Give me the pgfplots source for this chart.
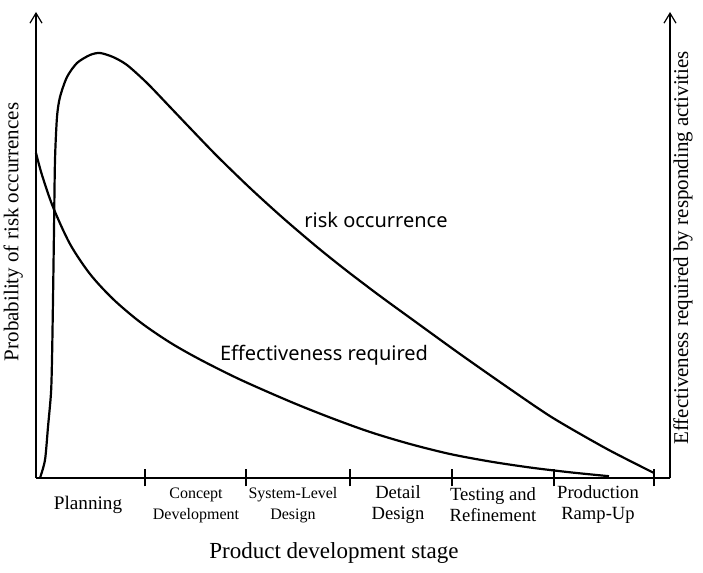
\documentclass[border=0pt]{standalone}
\usepackage{fontspec}
\setmainfont{Liberation Serif}
\newfontfamily\annot{Noto Sans}
\usepackage{pgfplots}
\pgfplotsset{compat=1.18}
\usetikzlibrary{arrows.meta}

% 1 px of the reference = 0.5pt; x = px-36, y = 478-py
\newcommand{\stageL}{\fontsize{9.3}{10.5}\selectfont}
\newcommand{\stageS}{\fontsize{8}{9}\selectfont}

\begin{document}
\begin{tikzpicture}
\path[use as bounding box] (-18pt,-47.5pt) rectangle (333.5pt,239pt);
\begin{axis}[
  scale only axis, width=317pt, height=233pt,
  xmin=0, xmax=634, ymin=0, ymax=466,
  axis x line=bottom, axis y line=left,
  x axis line style={-, line width=1.1pt},
  y axis line style={-{Straight Barb[length=5pt,width=6pt]}, line width=0.6pt},
  ytick=\empty,
  xtick={52,160,257,362,457,562},
  xticklabels={
    {\fontsize{9.6}{11}\selectfont Planning},
    {\stageS Concept\\\stageS Development},
    {\stageS System-Level\\\stageS Design},
    {\stageL Detail\\\stageL Design},
    {\stageL Testing and\\\stageL Refinement},
    {\stageL Production\\\stageL Ramp-Up}},
  major tick length=0pt,
  extra x ticks={109,210,314,416,518,618},
  extra x tick labels={},
  extra x tick style={major tick length=8.5pt, tick style={line width=0.6pt, black}},
  xtick align=center,
  xticklabel style={align=center, anchor=center, yshift=-13.5pt, font=\stageL},
  xlabel={Product development stage},
  xlabel style={at={(axis description cs:0.47,-0.161)}, anchor=center, font=\fontsize{11.5}{13}\selectfont},
  ylabel={Probability of risk occurrences},
  ylabel style={at={(axis description cs:-0.036,0.528)}, anchor=center, font=\fontsize{10.5}{12}\selectfont},
  clip=false,
]
% risk occurrence
\addplot[black, line width=1.1pt, smooth, tension=0.45] coordinates {
  (4,0) (9,18) (12,51) (15,85) (16,118) (17,178) (18,248) (19,318) (21,361)
  (24,381) (31,401) (41,415) (54,423) (64,425) (77,421) (91,413) (111,395)
  (134,371) (154,350) (181,322) (214,290) (247,260) (281,231) (311,207)
  (344,182) (377,158) (424,124) (474,89) (517,60) (571,29) (618,5)
};
% effectiveness required
\addplot[black, line width=1.1pt, smooth, tension=0.5] coordinates {
  (0,325) (6,303) (17,271) (34,234) (54,204) (77,179) (104,156) (134,135.5)
  (164,118.5) (204,98.5) (254,76.5) (294,60.5) (334,46) (374,34) (414,24)
  (454,16.5) (494,10.5) (534,5.7) (573,1.8)
};
\node[font=\annot\fontsize{10}{12}\selectfont] at (axis cs:340,258) {risk occurrence};
\node[font=\annot\fontsize{10}{12}\selectfont] at (axis cs:288,123) {Effectiveness required};
\end{axis}
\begin{axis}[
  scale only axis, width=317pt, height=233pt,
  xmin=0, xmax=634, ymin=0, ymax=466,
  axis x line=none, axis y line=right,
  y axis line style={-{Straight Barb[length=5pt,width=6pt]}, line width=0.6pt},
  ytick=\empty,
  ylabel={Effectiveness required by responding activities},
  ylabel style={at={(axis description cs:1.0205,0.494)}, anchor=center, font=\fontsize{10.5}{12}\selectfont},
]
\end{axis}
\end{tikzpicture}
\end{document}
